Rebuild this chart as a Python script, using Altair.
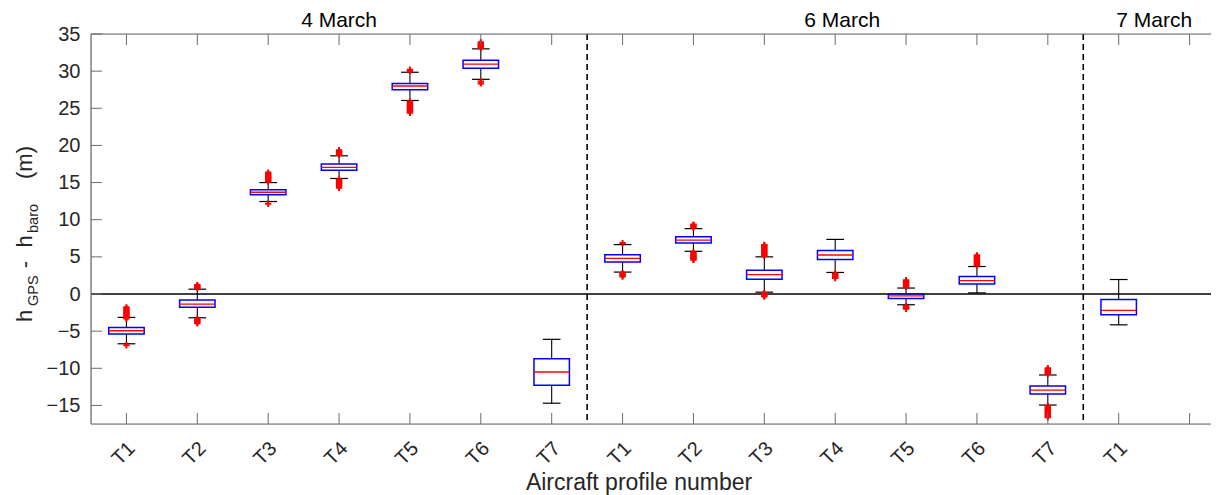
import altair as alt
import pandas as pd

# ---------------- data ----------------
tick_labels = ["T1", "T2", "T3", "T4", "T5", "T6", "T7",
               "T1", "T2", "T3", "T4", "T5", "T6", "T7", "T1"]
positions = list(range(1, 16))

whisker_low  = [-6.7, -3.2, 12.45, 15.55, 26.05, 28.9, -14.7,
                2.95, 5.75, 0.25, 2.9, -1.45, 0.15, -14.95, -4.15]
q1           = [-5.4, -1.8, 13.35, 16.65, 27.5, 30.4, -12.3,
                4.3, 6.85, 2.0, 4.65, -0.6, 1.35, -13.45, -2.8]
median       = [-4.95, -1.35, 13.7, 17.05, 28.0, 30.95, -10.5,
                4.8, 7.25, 2.6, 5.25, -0.25, 1.8, -12.95, -2.2]
q3           = [-4.5, -0.8, 14.05, 17.5, 28.35, 31.45, -8.7,
                5.3, 7.7, 3.2, 5.85, 0.05, 2.35, -12.4, -0.75]
whisker_high = [-3.15, 0.65, 15.0, 18.6, 29.85, 33.0, -6.1,
                6.65, 8.8, 5.0, 7.35, 0.8, 3.7, -10.9, 1.95]

out_4m_T1 = [-6.9, -3.3, -3.15, -3.0, -2.85, -2.7, -2.55, -2.4, -2.25, -2.1, -1.95, -1.8]
out_4m_T2 = [0.8, 0.95, 1.1, 1.2, -3.35, -3.5, -3.65, -3.8, -3.95]
out_4m_T3 = [12.15, 15.15, 15.3, 15.45, 15.6, 15.75, 15.9, 16.05, 16.2, 16.35]
out_4m_T4 = [18.75, 18.9, 19.05, 19.2, 19.35, 15.4, 15.25, 15.1, 14.95, 14.8, 14.65, 14.5, 14.3]
out_4m_T5 = [30.0, 30.2, 25.9, 25.75, 25.6, 25.45, 25.3, 25.15, 25.0, 24.85, 24.7, 24.55, 24.4]
out_4m_T6 = [33.15, 33.3, 33.45, 33.6, 33.75, 33.9, 28.6, 28.35]
out_4m_T7 = []
out_6m_T1 = [6.85, 2.8, 2.65, 2.5, 2.35]
out_6m_T2 = [8.95, 9.1, 9.25, 9.35, 5.6, 5.45, 5.3, 5.15, 5.0, 4.85, 4.7, 4.6]
out_6m_T3 = [5.15, 5.3, 5.45, 5.6, 5.75, 5.9, 6.05, 6.2, 6.35, 6.5, 6.6, 0.1, -0.05, -0.2, -0.35]
out_6m_T4 = [2.75, 2.6, 2.45, 2.3, 2.15]
out_6m_T5 = [0.95, 1.1, 1.25, 1.4, 1.55, 1.7, 1.85, -1.6, -1.75, -1.9, -2.0]
out_6m_T6 = [3.85, 4.0, 4.15, 4.3, 4.45, 4.6, 4.75, 4.9, 5.05, 5.2]
out_6m_T7 = [-10.75, -10.6, -10.45, -10.3, -10.15, -10.0,
             -15.1, -15.25, -15.4, -15.55, -15.7, -15.85, -16.0, -16.15, -16.3, -16.45, -16.6]
out_7m_T1 = []

outlier_lists = [out_4m_T1, out_4m_T2, out_4m_T3, out_4m_T4, out_4m_T5, out_4m_T6, out_4m_T7,
                 out_6m_T1, out_6m_T2, out_6m_T3, out_6m_T4, out_6m_T5, out_6m_T6, out_6m_T7,
                 out_7m_T1]

day_labels = ["4 March", "6 March", "7 March"]
day_x = [4.0, 11.1, 15.5]
separator_x = [7.5, 14.5]
x_tick_pos = list(range(1, 17))
y_tick_vals = list(range(-15, 40, 5))

# ---------------- layout ----------------
UNIT = 70.875          # pixels per x unit in the reference
W, H = 1120, 390       # plot area (right side of the reference axes is cropped)
X_MAX = 0.5 + W / UNIT
FONT = "Liberation Sans"
TXT = "#262626"
AX = "#6b6b6b"

box_df = pd.DataFrame({
    "pos": positions, "lo": whisker_low, "q1": q1, "med": median,
    "q3": q3, "hi": whisker_high,
})
box_df["left"] = box_df["pos"] - 0.25
box_df["right"] = box_df["pos"] + 0.25
box_df["cl"] = box_df["pos"] - 0.125
box_df["cr"] = box_df["pos"] + 0.125

out_rows = []
for p, vals in zip(positions, outlier_lists):
    for v in vals:
        out_rows.append({"pos": p, "v": v})
out_df = pd.DataFrame(out_rows)

xs = alt.Scale(domain=[0.5, X_MAX], nice=False, zero=False)
ys = alt.Scale(domain=[-17.5, 35], nice=False, zero=False)

label_expr = "[" + ",".join("'%s'" % t for t in tick_labels) + "][datum.value - 1]"
xaxis = alt.Axis(values=positions, labelExpr=label_expr, labelAngle=315,
                 labelAlign="right", labelBaseline="middle", labelPadding=21,
                 labelOffset=5, ticks=False, domain=False, grid=False,
                 labelFontSize=20, labelColor=TXT, labelFont=FONT, title=None,
                 labelOverlap=False)
yaxis = alt.Axis(values=y_tick_vals, labelPadding=11, ticks=False, domain=False,
                 grid=False, labelFontSize=20, labelColor=TXT, labelFont=FONT,
                 title=None, labelOverlap=False)


def X(f):
    return alt.X(f, type="quantitative", scale=xs, axis=xaxis)


def Y(f):
    return alt.Y(f, type="quantitative", scale=ys, axis=yaxis)


base = alt.Chart(box_df)

zero_line = alt.Chart(pd.DataFrame({"y": [0]})).mark_rule(
    color="black", strokeWidth=1.3).encode(y=Y("y"))

separators = alt.Chart(pd.DataFrame({"x": separator_x})).mark_rule(
    color="black", strokeWidth=1.6, strokeDash=[6, 4]).encode(x=X("x"))

whisk_up = base.mark_rule(color="black", strokeWidth=1.1).encode(
    x=X("pos"), y=Y("q3"), y2="hi")
whisk_dn = base.mark_rule(color="black", strokeWidth=1.1).encode(
    x=X("pos"), y=Y("lo"), y2="q1")
cap_hi = base.mark_rule(color="black", strokeWidth=1.2).encode(
    x=X("cl"), x2="cr", y=Y("hi"))
cap_lo = base.mark_rule(color="black", strokeWidth=1.2).encode(
    x=X("cl"), x2="cr", y=Y("lo"))
boxes = base.mark_rect(fillOpacity=0, stroke="#0000ff", strokeWidth=1.5).encode(
    x=X("left"), x2="right", y=Y("q1"), y2="q3")
medians = base.mark_rule(color="#ff0000", strokeWidth=1.3).encode(
    x=X("left"), x2="right", y=Y("med"))

outliers = alt.Chart(out_df).mark_point(
    shape="M-1,0L1,0M0,-1L0,1", filled=False, stroke="#ff0000",
    strokeWidth=2, size=40, opacity=1).encode(x=X("pos"), y=Y("v"))

# axes frame (left, top, bottom) and inward MATLAB-style ticks
frame_df = pd.DataFrame({"k": [0]})
frame_left = alt.Chart(frame_df).mark_rule(color=AX, strokeWidth=1.2).encode(
    x=alt.value(0), y=alt.value(0), y2=alt.value(H))
frame_top = alt.Chart(frame_df).mark_rule(color=AX, strokeWidth=1.2).encode(
    x=alt.value(0), x2=alt.value(W), y=alt.value(0))
frame_bottom = alt.Chart(frame_df).mark_rule(color=AX, strokeWidth=1.2).encode(
    x=alt.value(0), x2=alt.value(W), y=alt.value(H))

tickx_df = pd.DataFrame({"x": x_tick_pos})
ticky_df = pd.DataFrame({"y": y_tick_vals})
tick_bottom = alt.Chart(tickx_df).mark_rule(color=AX, strokeWidth=1).encode(
    x=X("x"), y=alt.value(H), y2=alt.value(H - 11))
tick_top = alt.Chart(tickx_df).mark_rule(color=AX, strokeWidth=1).encode(
    x=X("x"), y=alt.value(0), y2=alt.value(11))
tick_left = alt.Chart(ticky_df).mark_rule(color=AX, strokeWidth=1).encode(
    y=Y("y"), x=alt.value(0), x2=alt.value(11))

days = alt.Chart(pd.DataFrame({"x": day_x, "t": day_labels})).mark_text(
    font=FONT, fontSize=21, color="black", align="center", baseline="alphabetic"
).encode(x=X("x"), y=alt.value(-7), text="t:N")

xtitle = alt.Chart(pd.DataFrame({"t": ["Aircraft profile number"]})).mark_text(
    font=FONT, fontSize=23, color=TXT, align="center", baseline="alphabetic"
).encode(x=alt.value(548), y=alt.value(456), text="t:N")

# y title  h_GPS - h_baro  (m), rotated, built from pieces
yt_text = ["h", "GPS", "-", "h", "baro", "(m)"]
yt_size = [22, 14.5, 22, 22, 14.5, 22]
yt_px = [-59, -53, -59, -59, -53, -59]
yt_py = [288, 272, 230.5, 213.5, 199, 128.5]
yt_align = ["left", "left", "center", "left", "left", "center"]
ytitle_layers = []
for t, s, px, py, al in zip(yt_text, yt_size, yt_px, yt_py, yt_align):
    ytitle_layers.append(
        alt.Chart(pd.DataFrame({"t": [t]})).mark_text(
            font=FONT, fontSize=s, color=TXT, align=al, baseline="alphabetic", angle=270
        ).encode(x=alt.value(px), y=alt.value(py), text="t:N")
    )

chart = alt.layer(
    zero_line, separators, whisk_up, whisk_dn, cap_hi, cap_lo, boxes, medians,
    outliers, frame_left, frame_top, frame_bottom,
    tick_bottom, tick_top, tick_left, days, xtitle,
    *ytitle_layers
).properties(
    width=W, height=H,
    autosize=alt.AutoSizeParams(type="none"),
    padding={"left": 83, "top": 26, "right": 0, "bottom": 71},
).configure_view(
    stroke=None
).configure(background="white")

chart.save("out.html", embed_options={"renderer": "svg", "actions": False})
